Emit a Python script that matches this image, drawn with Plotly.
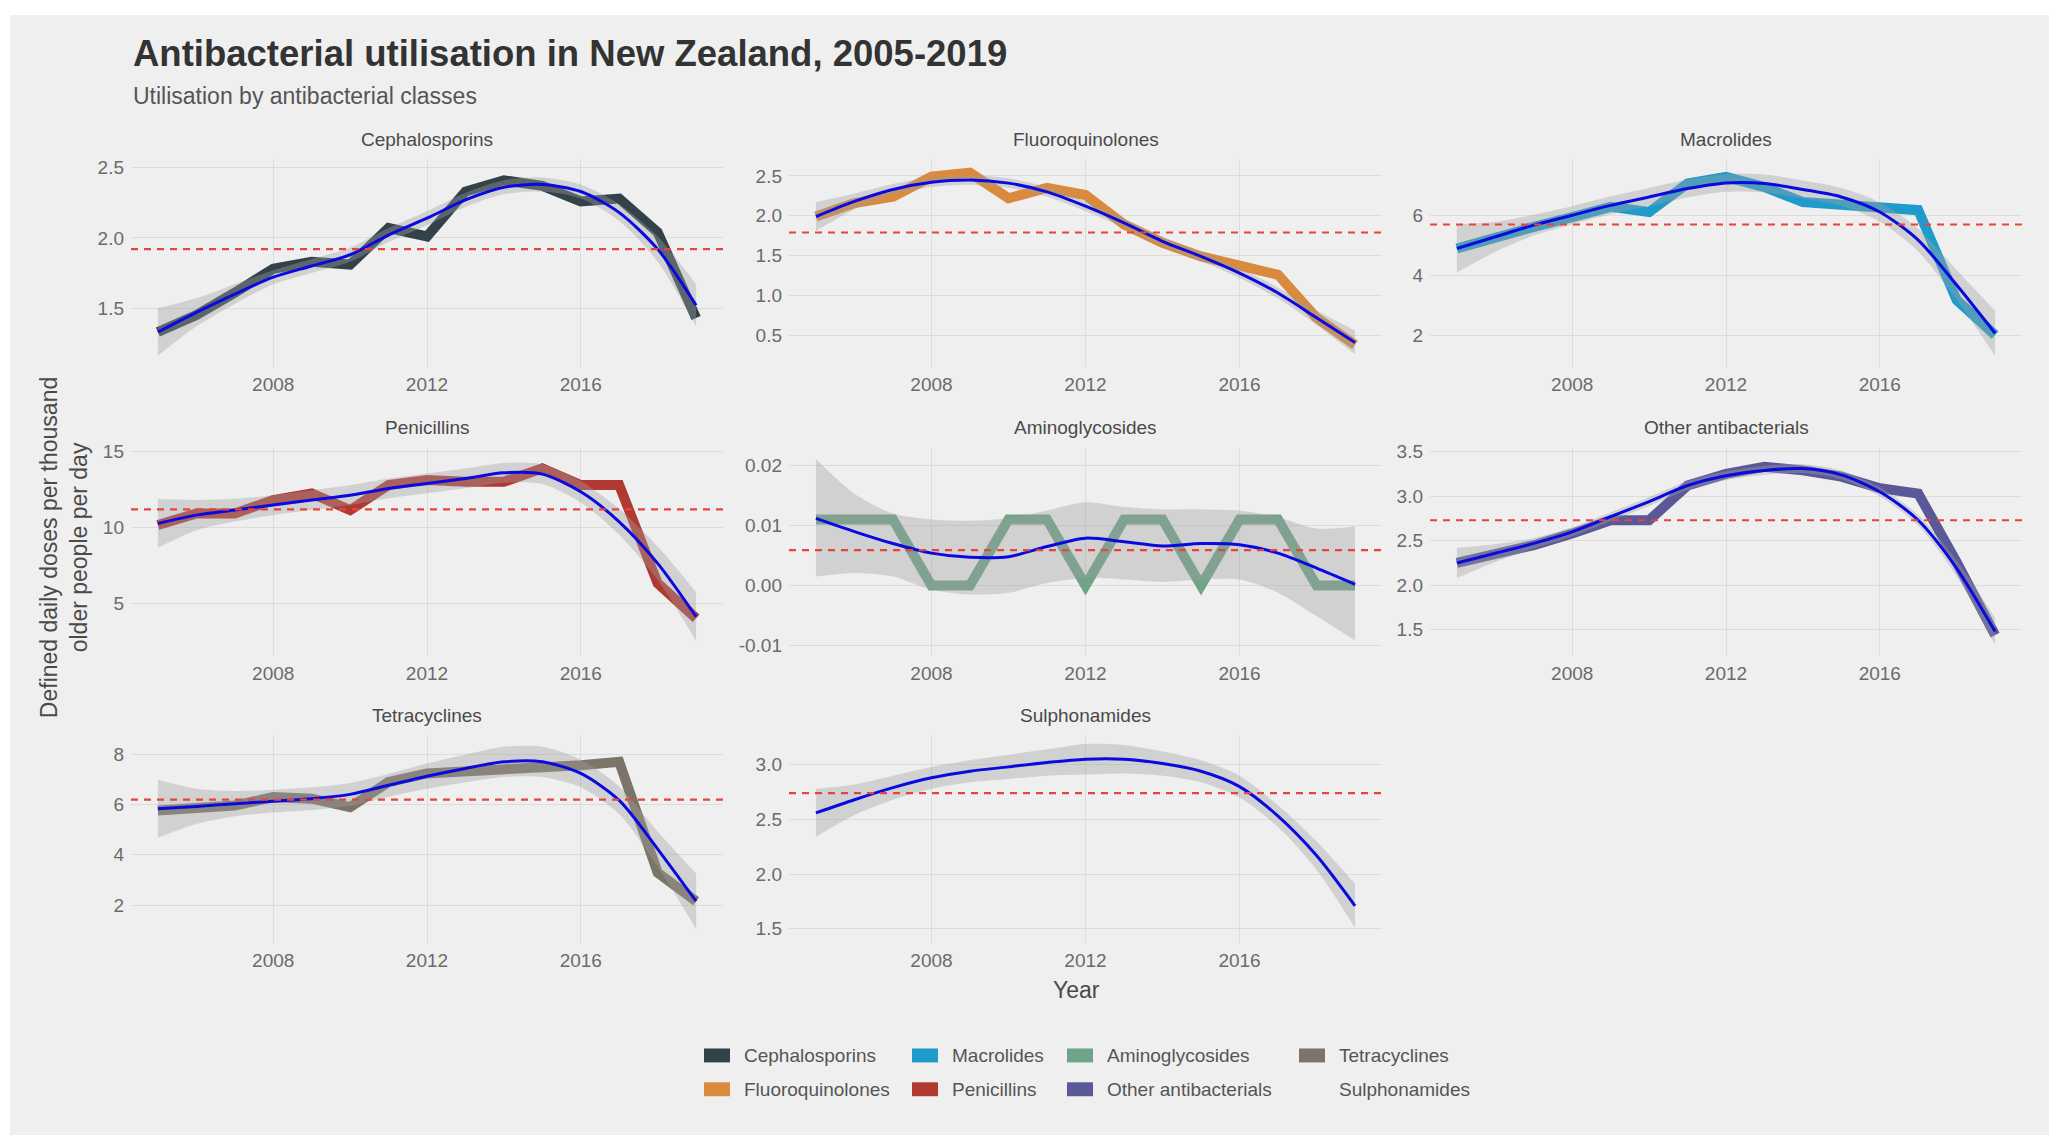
import plotly.graph_objects as go

# the page body adds an 8px margin, so the figure is drawn 8px smaller and
# every pixel position below is taken from the reference minus that offset
OFF = 8
W, H = 2057 - OFF, 1137 - OFF
FONT = "Liberation Sans, Arial, sans-serif"

years = list(range(2005, 2020))

classes = ["Cephalosporins", "Fluoroquinolones", "Macrolides", "Penicillins",
           "Aminoglycosides", "Other antibacterials", "Tetracyclines", "Sulphonamides"]
line_colors = ["#334249", "#D98A3D", "#1E9BCB", "#B03A32",
               "#6FA487", "#5A5896", "#7B7567", None]

# observed DDD per 1000 older people per day (Sulphonamides has no visible line)
cephalosporins = [1.33, 1.45, 1.61, 1.78, 1.83, 1.81, 2.07, 2.01, 2.33, 2.41, 2.37, 2.26, 2.28, 2.04, 1.43]
fluoroquinolones = [1.99, 2.16, 2.24, 2.49, 2.54, 2.22, 2.35, 2.26, 1.89, 1.66, 1.49, 1.38, 1.26, 0.72, 0.38]
macrolides = [4.89, 5.28, 5.61, 5.94, 6.28, 6.11, 7.06, 7.28, 6.94, 6.44, 6.33, 6.22, 6.17, 3.17, 2.00]
penicillins = [10.18, 10.94, 10.94, 11.82, 12.25, 11.16, 12.80, 13.13, 13.02, 13.02, 13.90, 12.80, 12.80, 6.35, 4.05]
aminoglycosides = [0.011, 0.011, 0.011, 0.0, 0.0, 0.011, 0.011, 0.0, 0.011, 0.011, 0.0, 0.011, 0.011, 0.0, 0.0]
other_antibacterials = [2.25, 2.34, 2.45, 2.58, 2.73, 2.73, 3.12, 3.25, 3.33, 3.29, 3.22, 3.09, 3.03, 2.26, 1.44]
tetracyclines = [5.76, 5.89, 5.96, 6.29, 6.23, 5.89, 6.89, 7.23, 7.29, 7.36, 7.49, 7.56, 7.69, 3.29, 2.16]
sulphonamides = None

# loess fit + band
ceph_fit = [1.33, 1.47, 1.60, 1.72, 1.80, 1.88, 2.02, 2.14, 2.27, 2.36, 2.38, 2.33, 2.18, 1.92, 1.52]
ceph_lo = [1.16, 1.37, 1.53, 1.67, 1.75, 1.83, 1.97, 2.09, 2.22, 2.31, 2.33, 2.28, 2.12, 1.83, 1.37]
ceph_hi = [1.50, 1.57, 1.67, 1.77, 1.85, 1.93, 2.07, 2.19, 2.32, 2.41, 2.43, 2.38, 2.24, 2.01, 1.67]

fluoro_fit = [1.99, 2.18, 2.33, 2.42, 2.45, 2.41, 2.30, 2.12, 1.91, 1.68, 1.49, 1.28, 1.03, 0.72, 0.41]
fluoro_lo = [1.81, 2.08, 2.26, 2.36, 2.39, 2.35, 2.24, 2.06, 1.85, 1.62, 1.43, 1.22, 0.96, 0.63, 0.26]
fluoro_hi = [2.17, 2.28, 2.40, 2.48, 2.51, 2.47, 2.36, 2.18, 1.97, 1.74, 1.55, 1.34, 1.10, 0.81, 0.56]

macro_fit = [4.89, 5.28, 5.67, 6.00, 6.33, 6.61, 6.89, 7.08, 7.06, 6.86, 6.61, 6.11, 5.17, 3.67, 2.06]
macro_lo = [4.09, 4.78, 5.32, 5.70, 6.03, 6.31, 6.59, 6.78, 6.76, 6.56, 6.31, 5.79, 4.79, 3.17, 1.31]
macro_hi = [5.69, 5.78, 6.02, 6.30, 6.63, 6.91, 7.19, 7.38, 7.36, 7.16, 6.91, 6.43, 5.55, 4.17, 2.81]

pen_fit = [10.28, 10.83, 11.16, 11.49, 11.82, 12.14, 12.58, 12.91, 13.24, 13.61, 13.52, 12.36, 10.39, 7.66, 4.16]
pen_lo = [8.68, 9.83, 10.41, 10.84, 11.17, 11.49, 11.93, 12.26, 12.59, 12.96, 12.87, 11.66, 9.54, 6.56, 2.56]
pen_hi = [11.88, 11.83, 11.91, 12.14, 12.47, 12.79, 13.23, 13.56, 13.89, 14.26, 14.17, 13.06, 11.24, 8.76, 5.76]

amino_fit = [0.0112, 0.0090, 0.0070, 0.0054, 0.0047, 0.0048, 0.0065, 0.0079, 0.0073, 0.0066, 0.0070, 0.0068, 0.0054, 0.0029, 0.0002]
amino_lo = [0.0015, 0.0021, 0.0015, -0.0007, -0.0015, -0.0012, 0.0004, 0.0013, 0.0010, 0.0006, 0.0010, 0.0010, -0.0012, -0.0051, -0.0092]
amino_hi = [0.0211, 0.0153, 0.0120, 0.0110, 0.0108, 0.0112, 0.0125, 0.0139, 0.0131, 0.0127, 0.0127, 0.0125, 0.0114, 0.0095, 0.0099]

other_fit = [2.25, 2.36, 2.47, 2.60, 2.77, 2.94, 3.12, 3.23, 3.29, 3.31, 3.24, 3.05, 2.73, 2.19, 1.48]
other_lo = [2.08, 2.26, 2.41, 2.55, 2.72, 2.89, 3.07, 3.18, 3.24, 3.26, 3.19, 3.00, 2.67, 2.10, 1.33]
other_hi = [2.42, 2.46, 2.53, 2.65, 2.82, 2.99, 3.17, 3.28, 3.34, 3.36, 3.29, 3.10, 2.79, 2.28, 1.63]

tetra_fit = [5.83, 5.92, 6.03, 6.13, 6.23, 6.40, 6.76, 7.12, 7.43, 7.69, 7.69, 7.23, 6.16, 4.23, 2.16]
tetra_lo = [4.68, 5.22, 5.53, 5.68, 5.78, 5.95, 6.31, 6.62, 6.88, 7.09, 7.09, 6.68, 5.61, 3.53, 1.06]
tetra_hi = [6.98, 6.62, 6.53, 6.58, 6.68, 6.85, 7.21, 7.62, 7.98, 8.29, 8.29, 7.78, 6.71, 4.93, 3.26]

sulpho_fit = [2.56, 2.68, 2.79, 2.88, 2.94, 2.98, 3.02, 3.05, 3.05, 3.01, 2.94, 2.80, 2.53, 2.17, 1.71]
sulpho_lo = [2.34, 2.54, 2.68, 2.78, 2.84, 2.87, 2.90, 2.91, 2.92, 2.90, 2.84, 2.70, 2.43, 2.04, 1.51]
sulpho_hi = [2.78, 2.82, 2.90, 2.98, 3.04, 3.09, 3.14, 3.19, 3.18, 3.12, 3.04, 2.90, 2.63, 2.30, 1.91]

class_means = [1.92, 1.79, 5.69, 11.20, 0.0059, 2.73, 6.19, 2.74]

observed = [cephalosporins, fluoroquinolones, macrolides, penicillins,
            aminoglycosides, other_antibacterials, tetracyclines, sulphonamides]
fits = [ceph_fit, fluoro_fit, macro_fit, pen_fit, amino_fit, other_fit, tetra_fit, sulpho_fit]
lows = [ceph_lo, fluoro_lo, macro_lo, pen_lo, amino_lo, other_lo, tetra_lo, sulpho_lo]
highs = [ceph_hi, fluoro_hi, macro_hi, pen_hi, amino_hi, other_hi, tetra_hi, sulpho_hi]

y_ranges = [[1.08, 2.56], [0.10, 2.71], [0.93, 7.87], [1.6, 15.26],
            [-0.0117, 0.023], [1.21, 3.545], [0.5, 8.75], [1.37, 3.27]]
y_ticks = [[1.5, 2.0, 2.5], [0.5, 1.0, 1.5, 2.0, 2.5], [2, 4, 6], [5, 10, 15],
           [-0.01, 0.0, 0.01, 0.02], [1.5, 2.0, 2.5, 3.0, 3.5], [2, 4, 6, 8], [1.5, 2.0, 2.5, 3.0]]
y_ticktext = [["1.5", "2.0", "2.5"], ["0.5", "1.0", "1.5", "2.0", "2.5"], ["2", "4", "6"],
              ["5", "10", "15"], ["-0.01", "0.00", "0.01", "0.02"],
              ["1.5", "2.0", "2.5", "3.0", "3.5"], ["2", "4", "6", "8"],
              ["1.5", "2.0", "2.5", "3.0"]]
x_ticks = [2008, 2012, 2016]

# panel boxes in reference pixels (ggplot facet_wrap, 3 columns)
col_px = [(131, 723), (789, 1382), (1430, 2022)]
row_px = [(154, 363), (444, 653), (733, 942)]


def px(x):
    return (x - OFF) / W


def py(y):
    return 1 - (y - OFF) / H


GRID = "#DCDCDC"
TICKFONT = dict(size=19, color="#6B6B6B", family=FONT)
fig = go.Figure()
layout_axes = {}
annotations = []
shapes = []

# grey plot background with a thin white border, as in the source image
shapes.append(dict(type="rect", xref="paper", yref="paper", layer="below",
                   x0=px(10), x1=px(2052), y0=py(1135), y1=py(9),
                   fillcolor="#EFEFEF", line=dict(width=0)))

for i, name in enumerate(classes):
    n = i + 1
    sfx = "" if n == 1 else str(n)
    xa, ya = "x" + sfx, "y" + sfx
    r, c = divmod(i, 3)
    x0, x1 = col_px[c]
    top, bot = row_px[r]

    layout_axes["xaxis" + sfx] = dict(
        domain=[px(x0), px(x1)], anchor=ya, range=[2004.3, 2019.7],
        tickvals=x_ticks, showgrid=True, gridcolor=GRID, gridwidth=1.3,
        zeroline=False, showline=False, ticks="", ticklabelstandoff=4,
        tickfont=TICKFONT)
    layout_axes["yaxis" + sfx] = dict(
        domain=[py(bot), py(top)], anchor=xa, range=y_ranges[i],
        tickvals=y_ticks[i], ticktext=y_ticktext[i], showgrid=True,
        gridcolor=GRID, gridwidth=1.3, zeroline=False, showline=False,
        ticks="", ticklabelstandoff=6, tickfont=TICKFONT)

    if observed[i] is not None:
        fig.add_trace(go.Scatter(
            x=years, y=observed[i], xaxis=xa, yaxis=ya, mode="lines",
            line=dict(color=line_colors[i], width=10), showlegend=False,
            hoverinfo="skip"))

    fig.add_trace(go.Scatter(
        x=years, y=lows[i], xaxis=xa, yaxis=ya, mode="lines",
        line=dict(width=0, shape="spline", smoothing=0.8),
        showlegend=False, hoverinfo="skip"))
    fig.add_trace(go.Scatter(
        x=years, y=highs[i], xaxis=xa, yaxis=ya, mode="lines",
        line=dict(width=0, shape="spline", smoothing=0.8), fill="tonexty",
        fillcolor="rgba(160,160,160,0.38)", showlegend=False, hoverinfo="skip"))
    fig.add_trace(go.Scatter(
        x=years, y=fits[i], xaxis=xa, yaxis=ya, mode="lines",
        line=dict(color="#0A0AE0", width=3, shape="spline", smoothing=0.8),
        showlegend=False, hoverinfo="skip"))

    shapes.append(dict(type="line", xref=xa + " domain", yref=ya,
                       x0=0, x1=1, y0=class_means[i], y1=class_means[i],
                       line=dict(color="#E8433C", width=2.2, dash="7px,6px")))

    annotations.append(dict(
        text=name, xref="paper", yref="paper", x=px((x0 + x1) / 2),
        y=py(top - 20), xanchor="center", yanchor="middle",
        showarrow=False, font=dict(size=19, color="#4A4A4A", family=FONT)))

# titles
annotations.append(dict(
    text="<b>Antibacterial utilisation in New Zealand, 2005-2019</b>",
    xref="paper", yref="paper", x=px(131), y=py(48), xanchor="left",
    yanchor="middle", showarrow=False,
    font=dict(size=36.5, color="#333333", family=FONT)))
annotations.append(dict(
    text="Utilisation by antibacterial classes", xref="paper", yref="paper",
    x=px(131), y=py(90), xanchor="left", yanchor="middle",
    showarrow=False, font=dict(size=23, color="#555555", family=FONT)))
annotations.append(dict(
    text="Defined daily doses per thousand<br>older people per day",
    xref="paper", yref="paper", x=px(64), y=py(545), xanchor="center",
    yanchor="middle", textangle=-90, showarrow=False,
    font=dict(size=23, color="#4A4A4A", family=FONT)))
annotations.append(dict(
    text="Year", xref="paper", yref="paper", x=px(1076), y=py(989),
    xanchor="center", yanchor="middle", showarrow=False,
    font=dict(size=23, color="#4A4A4A", family=FONT)))

# legend, two rows filled column by column like ggplot
legend_text_x = [742, 950, 1105, 1337]
legend_row_y = [1055, 1089]
for i, name in enumerate(classes):
    c, r = divmod(i, 2)
    tx, ty = legend_text_x[c], legend_row_y[r]
    if line_colors[i] is not None:
        shapes.append(dict(type="rect", xref="paper", yref="paper",
                           x0=px(tx - 38), x1=px(tx - 12),
                           y0=py(ty + 7), y1=py(ty - 7),
                           fillcolor=line_colors[i], line=dict(width=0)))
    annotations.append(dict(
        text=name, xref="paper", yref="paper", x=px(tx), y=py(ty),
        xanchor="left", yanchor="middle", showarrow=False,
        font=dict(size=19, color="#555555", family=FONT)))

fig.update_layout(
    width=W, height=H, autosize=False,
    margin=dict(l=0, r=0, t=0, b=0),
    paper_bgcolor="white", plot_bgcolor="rgba(0,0,0,0)",
    showlegend=False, annotations=annotations, shapes=shapes,
    font=dict(family=FONT), **layout_axes)

fig.write_html("out.html")
